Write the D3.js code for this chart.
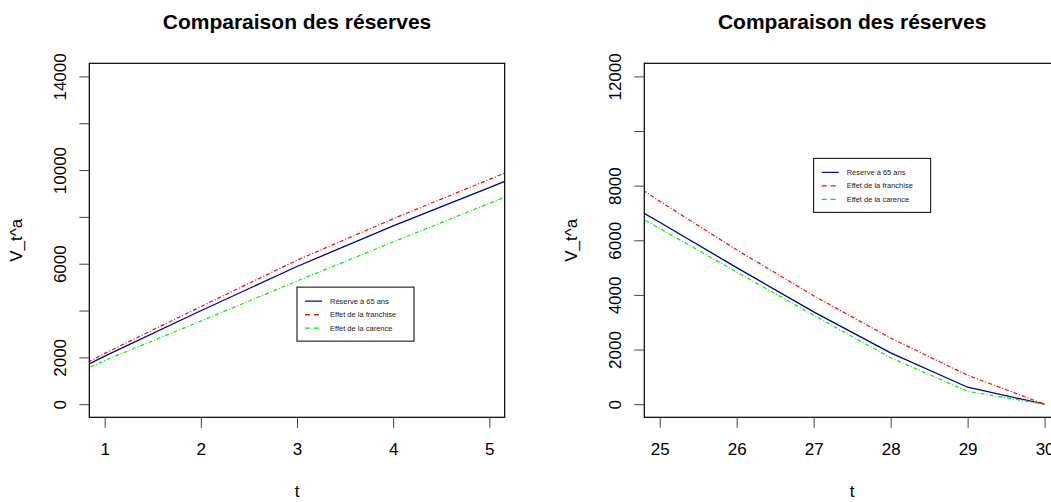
<!DOCTYPE html>
<html>
<head>
<meta charset="utf-8">
<script src="https://cdn.jsdelivr.net/npm/d3@7"></script>
<style>
  body { margin: 0; background: #fff; }
  svg { display: block; font-family: "Liberation Sans", Arial, sans-serif; }
  .tick line { stroke: #444; }
  .tick text { font-size: 17px; fill: #000; }
  .title { font-size: 21px; font-weight: bold; }
  .axis--label { font-size: 17px; }
  .legend text { font-size: 7.5px; fill: #222; }
</style>
</head>
<body>
<div id="graphic"></div>
<script>
// left panel : t = 0..6 (shown 1..5)
var tLeft = [0, 1, 2, 3, 4, 5, 6];
var reserveLeft = [0, 2050, 3990, 5880, 7620, 9250, 10900];
var franchiseLeft = [0, 2170, 4170, 6150, 7920, 9600, 11300];
var carenceLeft = [0, 1870, 3550, 5260, 6930, 8580, 10150];

// right panel : t = 24..30 (shown 25..30)
var tRight = [24, 25, 26, 27, 28, 29, 30];
var reserveRight = [8300, 6660, 5000, 3380, 1880, 620, 0];
var franchiseRight = [9280, 7430, 5650, 3970, 2420, 1060, 0];
var carenceRight = [8015, 6435, 4835, 3260, 1700, 470, 0];

var legendLabels = ["Réserve à 65 ans", "Effet de la franchise", "Effet de la carence"];
var colour_palette = ["#00008b", "#ff0000", "#00ee00"];

var leftYTicks = [0, 2000, 4000, 6000, 8000, 10000, 12000, 14000];
var leftYLabels = [0, 2000, 6000, 10000, 14000];
var rightYTicks = [0, 2000, 4000, 6000, 8000, 10000, 12000];
var rightYLabels = [0, 2000, 4000, 6000, 8000, 12000];

var panels = [
  { t: tLeft, series: [reserveLeft, franchiseLeft, carenceLeft], xlim: [1, 5], ylim: [0, 14000],
    xTicks: [1, 2, 3, 4, 5], yTicks: leftYTicks, yLabels: leftYLabels,
    left: 89.3, right: 504.7, legendAt: [3, 5000] },
  { t: tRight, series: [reserveRight, franchiseRight, carenceRight], xlim: [25, 30], ylim: [0, 12000],
    xTicks: [25, 26, 27, 28, 29, 30], yTicks: rightYTicks, yLabels: rightYLabels,
    left: 644.3, right: 1060, legendAt: [27, 9000] }
];

var svgWidth = 1051, svgHeight = 502;
var plotTop = 63.3, plotBottom = 417.3;

var svg = d3.select('#graphic').append('svg')
  .attr('width', svgWidth)
  .attr('height', svgHeight);

// R-style 4% extension of the limits
function ext(lim) {
  var d = (lim[1] - lim[0]) * 0.04;
  return [lim[0] - d, lim[1] + d];
}

var dashes = [null, "4,2,1,2", "4,2,1,2"];
var legendDashes = [null, "5,4", "5,4"];

panels.forEach(function(p, pi) {
  var x = d3.scaleLinear().domain(ext(p.xlim)).range([p.left, p.right]);
  var y = d3.scaleLinear().domain(ext(p.ylim)).range([plotBottom, plotTop]);
  var cx = (p.left + p.right) / 2;

  var g = svg.append('g');

  g.append('clipPath').attr('id', 'clip' + pi)
    .append('rect')
    .attr('x', p.left).attr('y', plotTop)
    .attr('width', p.right - p.left).attr('height', plotBottom - plotTop);

  // lines
  var line = d3.line()
    .x(function(d) { return x(d[0]); })
    .y(function(d) { return y(d[1]); });

  p.series.forEach(function(s, i) {
    g.append('path')
      .datum(d3.zip(p.t, s))
      .attr('clip-path', 'url(#clip' + pi + ')')
      .attr('d', line)
      .attr('fill', 'none')
      .attr('stroke', colour_palette[i])
      .attr('stroke-width', i == 0 ? 1.3 : 1.2)
      .attr('stroke-dasharray', dashes[i]);
  });

  // box
  g.append('rect')
    .attr('x', p.left).attr('y', plotTop)
    .attr('width', p.right - p.left).attr('height', plotBottom - plotTop)
    .attr('fill', 'none').attr('stroke', '#000').attr('stroke-width', 1.2);

  // x axis
  var xAxis = g.append('g')
    .attr('transform', 'translate(0,' + plotBottom + ')')
    .call(d3.axisBottom(x).tickValues(p.xTicks).tickSize(10.5).tickPadding(22).tickFormat(d3.format('d')));
  xAxis.select('.domain').remove();
  xAxis.selectAll('text').attr('dy', '0.32em');

  // y axis
  var yAxis = g.append('g')
    .attr('transform', 'translate(' + p.left + ',0)')
    .call(d3.axisLeft(y).tickValues(p.yTicks).tickSize(10)
      .tickFormat(function(d) { return p.yLabels.indexOf(d) > -1 ? d : ''; }));
  yAxis.select('.domain').remove();
  yAxis.selectAll('text')
    .attr('transform', 'rotate(-90)')
    .attr('x', 0).attr('y', -23).attr('dy', 0)
    .attr('text-anchor', 'middle');

  // titles
  g.append('text').attr('class', 'title')
    .attr('x', cx).attr('y', 29)
    .attr('text-anchor', 'middle')
    .text('Comparaison des réserves');

  g.append('text').attr('class', 'axis--label')
    .attr('x', cx).attr('y', 497)
    .attr('text-anchor', 'middle')
    .text('t');

  g.append('text').attr('class', 'axis--label')
    .attr('transform', 'translate(' + (p.left - 67.5) + ',' + ((plotTop + plotBottom) / 2) + ') rotate(-90)')
    .attr('text-anchor', 'middle')
    .text('V_t^a');

  // legend
  var lx = x(p.legendAt[0]), ly = y(p.legendAt[1]);
  var legend = g.append('g').attr('class', 'legend')
    .attr('transform', 'translate(' + lx + ',' + ly + ')');

  legend.append('rect')
    .attr('width', 117).attr('height', 54)
    .attr('fill', '#fff').attr('stroke', '#000').attr('stroke-width', 1);

  var item = legend.selectAll('g.legend--item')
    .data(d3.zip(legendLabels, colour_palette))
    .join('g')
    .attr('class', 'legend--item')
    .attr('transform', function(d, i) { return 'translate(0,' + (14 + i * 13.5) + ')'; });

  item.append('line')
    .attr('x1', 8).attr('x2', 25)
    .attr('stroke', function(d) { return d[1]; })
    .attr('stroke-width', 1.2)
    .attr('stroke-dasharray', function(d, i) { return legendDashes[i]; });

  item.append('text')
    .attr('x', 33).attr('dy', '0.32em')
    .text(function(d) { return d[0]; });
});
</script>
</body>
</html>
